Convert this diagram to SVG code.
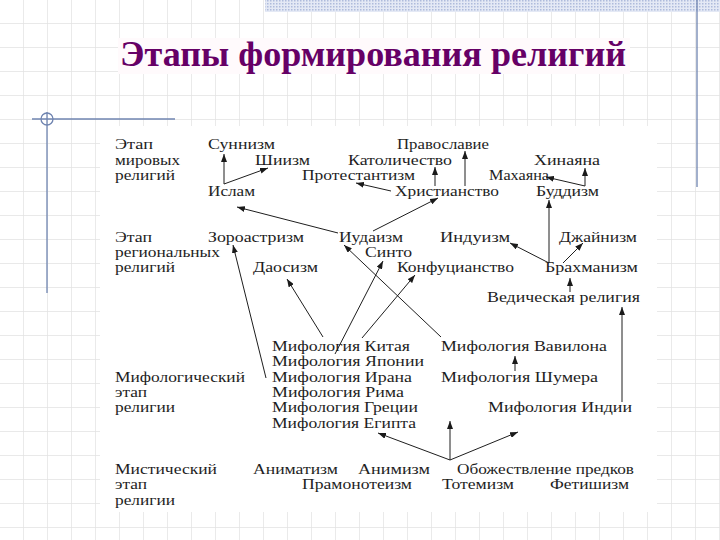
<svg xmlns="http://www.w3.org/2000/svg" width="720" height="540" viewBox="0 0 720 540">
<defs>
<pattern id="grid" width="24" height="24" patternUnits="userSpaceOnUse">
<path d="M24 0V24M0 24H24" fill="none" stroke="#e2e2e2" stroke-width="1.4"/>
</pattern>
<pattern id="hatch" width="3" height="3" patternUnits="userSpaceOnUse">
<rect width="3" height="3" fill="#e4e9f5"/>
<rect width="1.5" height="1.5" fill="#aebbdc"/>
</pattern>
<marker id="ah" markerWidth="9" markerHeight="6" refX="8" refY="3" orient="auto" markerUnits="userSpaceOnUse">
<path d="M0,0 L8,3 L0,6 z" fill="#1a1a1a"/>
</marker>
<style>
.t{font-size:15px;fill:#1e1e1e}
.ttl{font-size:36px;font-weight:bold;fill:#660066}
.c line{stroke:#1e1e1e;stroke-width:1;marker-end:url(#ah)}
.deco{stroke:#6f84b0;stroke-width:1.3;fill:none}
</style>
</defs>
<rect width="720" height="540" fill="#ffffff"/>
<rect width="720" height="540" fill="url(#grid)"/>
<rect x="265" y="0" width="455" height="12" fill="url(#hatch)"/>
<line class="deco" x1="697" y1="0" x2="697" y2="187" stroke="#7a8294"/>
<line class="deco" x1="32" y1="119" x2="175" y2="119"/>
<line class="deco" x1="47" y1="112" x2="47" y2="293"/>
<circle class="deco" cx="47" cy="119" r="6" stroke-width="1"/>
<rect x="118" y="38" width="512" height="36" fill="#fffafc"/>
<rect x="100" y="126" width="557" height="386" fill="#ffffff"/>
<g id="title"><text class="ttl" font-family="Liberation Serif" font-weight="bold" x="120" y="66" textLength="506" lengthAdjust="spacingAndGlyphs">Этапы формирования религий</text></g>

<g id="connectors" class="c">
<line x1="224" y1="184" x2="224" y2="154"/>
<line x1="224" y1="184" x2="268" y2="168"/>
<line x1="338" y1="233" x2="237" y2="207"/>
<line x1="373" y1="231" x2="438" y2="198"/>
<line x1="391" y1="191" x2="356" y2="183"/>
<line x1="435" y1="186" x2="435" y2="167"/>
<line x1="465" y1="186" x2="465" y2="151"/>
<line x1="585" y1="186" x2="585" y2="168"/>
<line x1="585" y1="186" x2="546" y2="177"/>
<line x1="549" y1="263" x2="549" y2="200"/>
<line x1="549" y1="263" x2="510" y2="243"/>
<line x1="563" y1="263" x2="583" y2="243"/>
<line x1="570" y1="292" x2="570" y2="278"/>
<line x1="622" y1="402" x2="622" y2="307"/>
<line x1="515" y1="371" x2="515" y2="356"/>
<line x1="441" y1="337" x2="344" y2="245"/>
<line x1="266" y1="378" x2="233" y2="245"/>
<line x1="323" y1="337" x2="287" y2="279"/>
<line x1="335" y1="354" x2="383" y2="261"/>
<line x1="362" y1="338" x2="415" y2="275"/>
<line x1="450" y1="460" x2="450" y2="421"/>
<line x1="450" y1="460" x2="378" y2="433"/>
<line x1="450" y1="460" x2="518" y2="432"/>
</g>

<g id="stage-world"><text class="t" font-family="Liberation Serif" x="115" y="149" textLength="38" lengthAdjust="spacingAndGlyphs">Этап</text><text class="t" font-family="Liberation Serif" x="115" y="165" textLength="65" lengthAdjust="spacingAndGlyphs">мировых</text><text class="t" font-family="Liberation Serif" x="115" y="180" textLength="60" lengthAdjust="spacingAndGlyphs">религий</text></g>
<g id="stage-regional"><text class="t" font-family="Liberation Serif" x="115" y="242" textLength="37" lengthAdjust="spacingAndGlyphs">Этап</text><text class="t" font-family="Liberation Serif" x="115" y="257" textLength="105" lengthAdjust="spacingAndGlyphs">региональных</text><text class="t" font-family="Liberation Serif" x="115" y="272" textLength="60" lengthAdjust="spacingAndGlyphs">религий</text></g>
<g id="stage-myth"><text class="t" font-family="Liberation Serif" x="115" y="382" textLength="130" lengthAdjust="spacingAndGlyphs">Мифологический</text><text class="t" font-family="Liberation Serif" x="115" y="397" textLength="32" lengthAdjust="spacingAndGlyphs">этап</text><text class="t" font-family="Liberation Serif" x="115" y="412" textLength="60" lengthAdjust="spacingAndGlyphs">религии</text></g>
<g id="stage-mystic"><text class="t" font-family="Liberation Serif" x="115" y="474" textLength="102" lengthAdjust="spacingAndGlyphs">Мистический</text><text class="t" font-family="Liberation Serif" x="115" y="489" textLength="32" lengthAdjust="spacingAndGlyphs">этап</text><text class="t" font-family="Liberation Serif" x="115" y="505" textLength="60" lengthAdjust="spacingAndGlyphs">религии</text></g>

<g id="sunnizm"><text class="t" font-family="Liberation Serif" x="208" y="149" textLength="67" lengthAdjust="spacingAndGlyphs">Суннизм</text></g>
<g id="shiizm"><text class="t" font-family="Liberation Serif" x="255" y="165" textLength="55" lengthAdjust="spacingAndGlyphs">Шиизм</text></g>
<g id="islam"><text class="t" font-family="Liberation Serif" x="208" y="196" textLength="47" lengthAdjust="spacingAndGlyphs">Ислам</text></g>
<g id="pravoslavie"><text class="t" font-family="Liberation Serif" x="397" y="149" textLength="92" lengthAdjust="spacingAndGlyphs">Православие</text></g>
<g id="katolichestvo"><text class="t" font-family="Liberation Serif" x="348" y="165" textLength="104" lengthAdjust="spacingAndGlyphs">Католичество</text></g>
<g id="protestantizm"><text class="t" font-family="Liberation Serif" x="302" y="180" textLength="113" lengthAdjust="spacingAndGlyphs">Протестантизм</text></g>
<g id="hristianstvo"><text class="t" font-family="Liberation Serif" x="395" y="196" textLength="104" lengthAdjust="spacingAndGlyphs">Христианство</text></g>
<g id="hinayana"><text class="t" font-family="Liberation Serif" x="534" y="165" textLength="66" lengthAdjust="spacingAndGlyphs">Хинаяна</text></g>
<g id="mahayana"><text class="t" font-family="Liberation Serif" x="489" y="180" textLength="60" lengthAdjust="spacingAndGlyphs">Махаяна</text></g>
<g id="buddizm"><text class="t" font-family="Liberation Serif" x="536" y="196" textLength="63" lengthAdjust="spacingAndGlyphs">Буддизм</text></g>
<g id="zoroastrizm"><text class="t" font-family="Liberation Serif" x="208" y="242" textLength="96" lengthAdjust="spacingAndGlyphs">Зороастризм</text></g>
<g id="iudaizm"><text class="t" font-family="Liberation Serif" x="339" y="242" textLength="64" lengthAdjust="spacingAndGlyphs">Иудаизм</text></g>
<g id="induizm"><text class="t" font-family="Liberation Serif" x="440" y="242" textLength="70" lengthAdjust="spacingAndGlyphs">Индуизм</text></g>
<g id="dzhaynizm"><text class="t" font-family="Liberation Serif" x="559" y="242" textLength="78" lengthAdjust="spacingAndGlyphs">Джайнизм</text></g>
<g id="sinto"><text class="t" font-family="Liberation Serif" x="365" y="257" textLength="47" lengthAdjust="spacingAndGlyphs">Синто</text></g>
<g id="daosizm"><text class="t" font-family="Liberation Serif" x="253" y="272" textLength="65" lengthAdjust="spacingAndGlyphs">Даосизм</text></g>
<g id="konfucianstvo"><text class="t" font-family="Liberation Serif" x="397" y="272" textLength="117" lengthAdjust="spacingAndGlyphs">Конфуцианство</text></g>
<g id="brahmanizm"><text class="t" font-family="Liberation Serif" x="545" y="272" textLength="93" lengthAdjust="spacingAndGlyphs">Брахманизм</text></g>
<g id="vedicheskaya"><text class="t" font-family="Liberation Serif" x="487" y="302" textLength="153" lengthAdjust="spacingAndGlyphs">Ведическая религия</text></g>
<g id="myth-kitaya"><text class="t" font-family="Liberation Serif" x="272" y="351" textLength="138" lengthAdjust="spacingAndGlyphs">Мифология Китая</text></g>
<g id="myth-yaponii"><text class="t" font-family="Liberation Serif" x="272" y="366" textLength="152" lengthAdjust="spacingAndGlyphs">Мифология Японии</text></g>
<g id="myth-irana"><text class="t" font-family="Liberation Serif" x="272" y="382" textLength="140" lengthAdjust="spacingAndGlyphs">Мифология Ирана</text></g>
<g id="myth-rima"><text class="t" font-family="Liberation Serif" x="272" y="397" textLength="132" lengthAdjust="spacingAndGlyphs">Мифология Рима</text></g>
<g id="myth-grecii"><text class="t" font-family="Liberation Serif" x="272" y="412" textLength="146" lengthAdjust="spacingAndGlyphs">Мифология Греции</text></g>
<g id="myth-egipta"><text class="t" font-family="Liberation Serif" x="272" y="428" textLength="144" lengthAdjust="spacingAndGlyphs">Мифология Египта</text></g>
<g id="myth-vavilona"><text class="t" font-family="Liberation Serif" x="441" y="351" textLength="166" lengthAdjust="spacingAndGlyphs">Мифология Вавилона</text></g>
<g id="myth-shumera"><text class="t" font-family="Liberation Serif" x="441" y="382" textLength="157" lengthAdjust="spacingAndGlyphs">Мифология Шумера</text></g>
<g id="myth-indii"><text class="t" font-family="Liberation Serif" x="488" y="412" textLength="144" lengthAdjust="spacingAndGlyphs">Мифология Индии</text></g>
<g id="animatizm"><text class="t" font-family="Liberation Serif" x="253" y="474" textLength="85" lengthAdjust="spacingAndGlyphs">Аниматизм</text></g>
<g id="animizm"><text class="t" font-family="Liberation Serif" x="358" y="474" textLength="72" lengthAdjust="spacingAndGlyphs">Анимизм</text></g>
<g id="obozhestvlenie"><text class="t" font-family="Liberation Serif" x="457" y="474" textLength="177" lengthAdjust="spacingAndGlyphs">Обожествление предков</text></g>
<g id="pramonoteizm"><text class="t" font-family="Liberation Serif" x="302" y="489" textLength="110" lengthAdjust="spacingAndGlyphs">Прамонотеизм</text></g>
<g id="totemizm"><text class="t" font-family="Liberation Serif" x="442" y="489" textLength="72" lengthAdjust="spacingAndGlyphs">Тотемизм</text></g>
<g id="fetishizm"><text class="t" font-family="Liberation Serif" x="550" y="489" textLength="79" lengthAdjust="spacingAndGlyphs">Фетишизм</text></g>
</svg>
